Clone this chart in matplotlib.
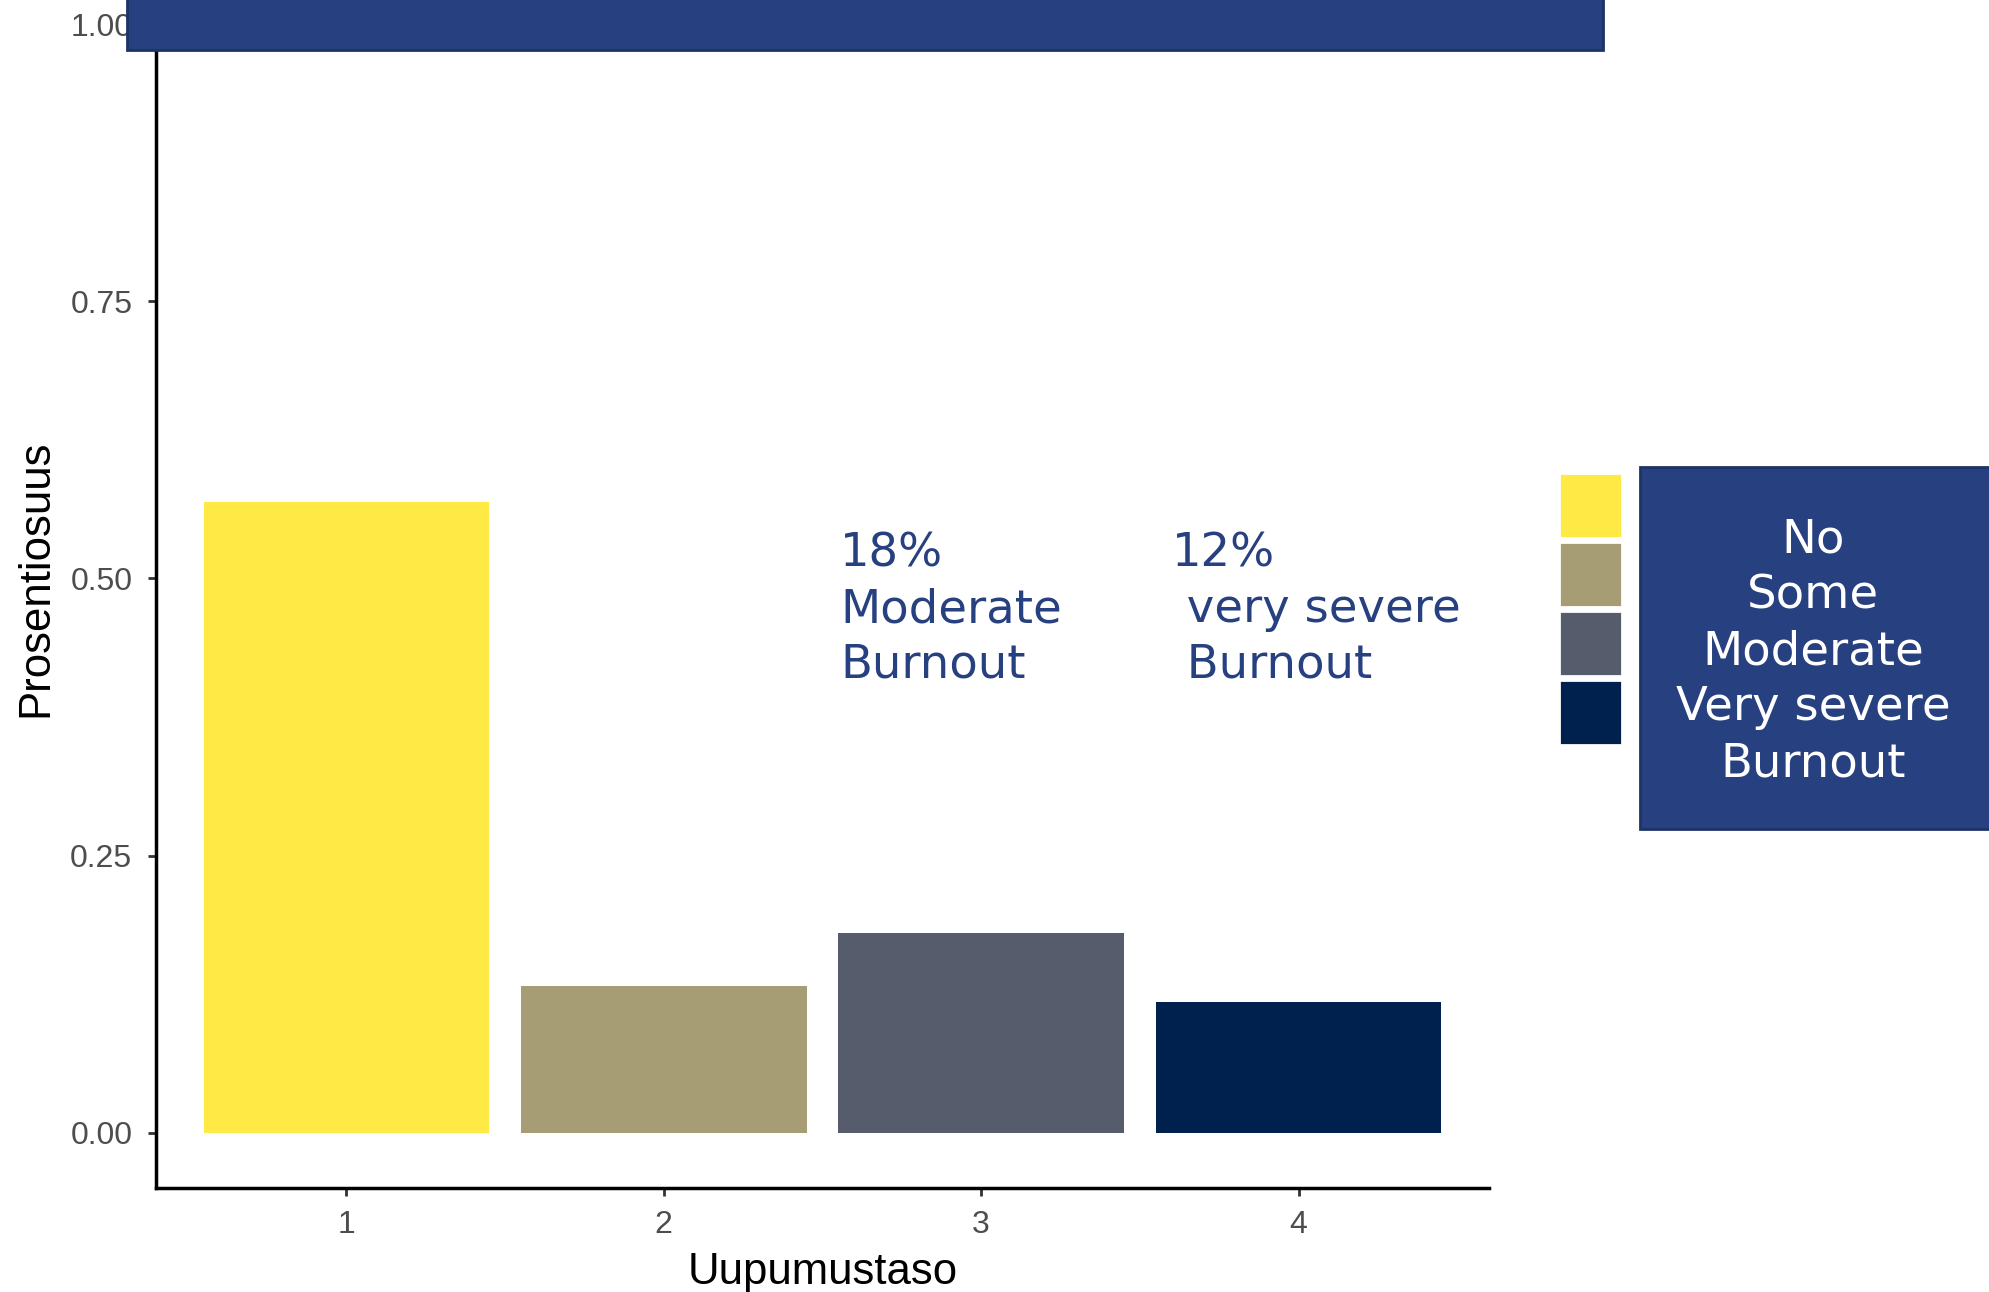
import matplotlib
matplotlib.use("Agg")
import matplotlib.pyplot as plt
from matplotlib.patches import Rectangle

# burnout level shares
levels = [1, 2, 3, 4]
shares = [0.569, 0.132, 0.180, 0.118]
colors = ["#FFE945", "#A69D75", "#575C6D", "#00204D"]
legend_lines = ["No", "Some", "Moderate", "Very severe", "Burnout"]
notes = ["18%\nModerate\nBurnout", "12%\n very severe\n Burnout"]
note_levels = [2.556, 3.600]

box_blue = "#27407F"
box_edge = "#1E3366"

fig = plt.figure(figsize=(19.89, 12.92), dpi=100)
ax = fig.add_axes([0.0784, 0.0805, 0.6702, 0.9435])

ax.bar(levels, shares, width=0.9, color=colors)
ax.set_xlim(0.4, 4.6)
ax.set_ylim(-0.05, 1.05)
ax.set_xticks(levels)
ax.set_xticklabels([str(l) for l in levels])
ax.set_yticks([0, 0.25, 0.5, 0.75, 1.0])
ax.set_yticklabels(["0.00", "0.25", "0.50", "0.75", "1.00"])

for s in ["top", "right"]:
    ax.spines[s].set_visible(False)
for s in ["left", "bottom"]:
    ax.spines[s].set_linewidth(2.5)
    ax.spines[s].set_color("black")
ax.tick_params(length=6, width=2, color="#333333", labelcolor="#4D4D4D",
               labelsize=23)
ax.tick_params(axis="y", pad=11)
ax.tick_params(axis="x", pad=9.5)
for lab in ax.get_xticklabels() + ax.get_yticklabels():
    lab.set_fontfamily("Liberation Sans")

ax.set_xlabel("Uupumustaso", fontsize=31.5, family="Liberation Sans", labelpad=9)
ax.set_ylabel("Prosentiosuus", fontsize=31.5, family="Liberation Sans", labelpad=10)

for x, note in zip(note_levels, notes):
    ax.text(x, 0.472, note, ha="left", va="center", fontsize=33.5,
            color=box_blue, family="DejaVu Sans", linespacing=1.31)

# dark banner across the top
fig.patches.append(Rectangle((0.0639, 0.9613), 0.742, 0.06, transform=fig.transFigure,
                             facecolor=box_blue, edgecolor=box_edge, linewidth=2,
                             zorder=5))

# legend keys
key_tops = [473, 542, 611, 680]
for top, c in zip(key_tops, colors):
    fig.patches.append(Rectangle((1559 / 1989, 1 - (top + 65) / 1292), 63 / 1989, 65 / 1292,
                                 transform=fig.transFigure, facecolor=c,
                                 edgecolor="white", linewidth=2, zorder=5))

# legend text box
fig.patches.append(Rectangle((1640 / 1989, 1 - 829 / 1292), 0.2, 362 / 1292,
                             transform=fig.transFigure, facecolor=box_blue,
                             edgecolor=box_edge, linewidth=2, zorder=5))
fig.text(0.9115, 0.4955, "\n".join(legend_lines), ha="center", va="center",
         fontsize=33.5, color="white", family="DejaVu Sans", linespacing=1.31,
         zorder=6)

fig.savefig("out.png", dpi=100)
